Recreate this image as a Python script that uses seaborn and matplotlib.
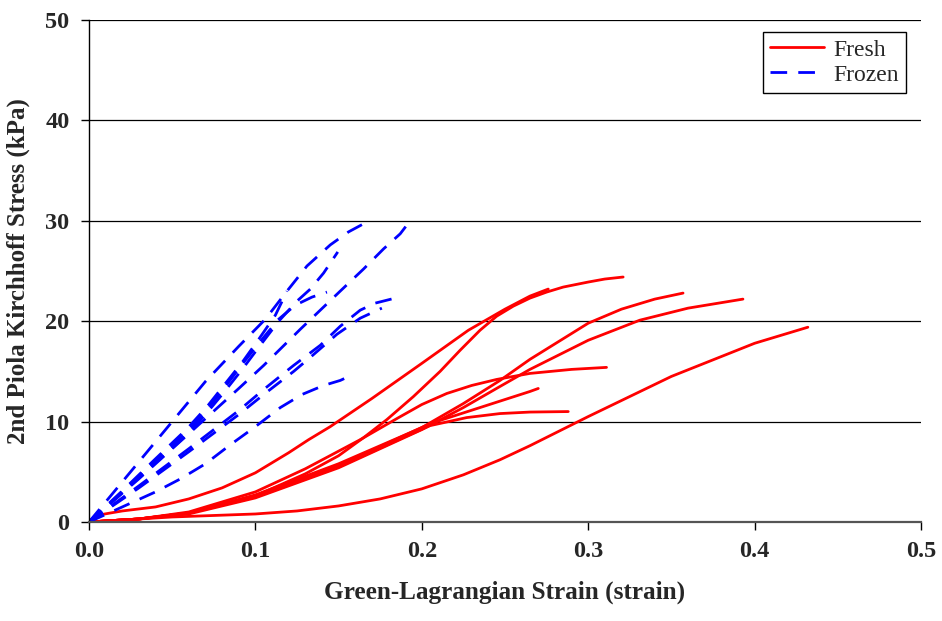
import matplotlib
matplotlib.use("Agg")
import matplotlib.pyplot as plt
import seaborn as sns
import pandas as pd
from matplotlib.lines import Line2D

# ---------------- data ----------------
# Fresh specimens (solid red)
fresh1_x = [0, 0.006, 0.02, 0.04, 0.06, 0.08, 0.1, 0.12, 0.132, 0.145, 0.17, 0.2, 0.228, 0.25, 0.265, 0.276]
fresh1_y = [0, 0.7, 1.1, 1.5, 2.3, 3.4, 4.9, 6.9, 8.2, 9.5, 12.3, 15.8, 19.1, 21.2, 22.5, 23.2]
fresh2_x = [0, 0.03, 0.06, 0.1, 0.13, 0.15, 0.165, 0.179, 0.195, 0.211, 0.223, 0.235, 0.245, 0.255, 0.265, 0.275, 0.285, 0.3, 0.31, 0.321]
fresh2_y = [0, 0.3, 0.9, 2.6, 4.8, 6.6, 8.4, 10.2, 12.5, 15.0, 17.1, 19.1, 20.5, 21.5, 22.3, 22.9, 23.4, 23.9, 24.2, 24.4]
fresh3_x = [0, 0.03, 0.06, 0.1, 0.15, 0.2, 0.225, 0.247, 0.265, 0.3, 0.32, 0.34, 0.357]
fresh3_y = [0, 0.3, 0.9, 2.7, 5.8, 9.4, 11.8, 14.1, 16.2, 19.8, 21.2, 22.2, 22.8]
fresh4_x = [0, 0.03, 0.06, 0.1, 0.15, 0.2, 0.225, 0.247, 0.265, 0.3, 0.331, 0.36, 0.393]
fresh4_y = [0, 0.3, 0.8, 2.4, 5.4, 9.2, 11.4, 13.5, 15.2, 18.1, 20.1, 21.3, 22.2]
fresh5_x = [0, 0.03, 0.06, 0.1, 0.13, 0.163, 0.185, 0.2, 0.215, 0.23, 0.245, 0.265, 0.29, 0.311]
fresh5_y = [0, 0.3, 1.0, 3.0, 5.3, 8.2, 10.3, 11.7, 12.8, 13.6, 14.2, 14.8, 15.2, 15.4]
fresh6_x = [0, 0.03, 0.06, 0.1, 0.15, 0.205, 0.235, 0.265, 0.27]
fresh6_y = [0, 0.3, 0.9, 2.6, 5.6, 9.8, 11.4, 13.0, 13.3]
fresh7_x = [0, 0.03, 0.06, 0.1, 0.15, 0.19, 0.205, 0.227, 0.247, 0.265, 0.288]
fresh7_y = [0, 0.3, 0.9, 2.5, 5.5, 8.5, 9.6, 10.4, 10.8, 10.95, 11.0]
fresh8_x = [0, 0.05, 0.1, 0.125, 0.15, 0.175, 0.2, 0.225, 0.247, 0.265, 0.3, 0.35, 0.4, 0.432]
fresh8_y = [0, 0.5, 0.8, 1.1, 1.6, 2.3, 3.3, 4.7, 6.2, 7.6, 10.5, 14.5, 17.8, 19.4]

# Frozen specimens (dashed blue)
frozen1_x = [0, 0.046, 0.07, 0.09, 0.106, 0.119, 0.131, 0.145, 0.156, 0.165]
frozen1_y = [0, 9.2, 14.0, 17.5, 20.2, 23.0, 25.5, 27.6, 28.9, 29.7]
frozen2_x = [0, 0.03, 0.06, 0.09, 0.105, 0.127, 0.151, 0.165, 0.177, 0.187, 0.193]
frozen2_y = [0, 4.3, 8.8, 13.3, 15.6, 19.2, 23.0, 25.2, 27.2, 28.7, 30.0]
frozen3_x = [0, 0.03, 0.06, 0.09, 0.105, 0.123, 0.139, 0.151, 0.163, 0.172, 0.184]
frozen3_y = [0, 3.6, 7.3, 11.1, 13.2, 15.6, 17.6, 19.5, 21.1, 21.8, 22.3]
frozen4_x = [0, 0.03, 0.06, 0.09, 0.105, 0.123, 0.133, 0.149, 0.163, 0.176]
frozen4_y = [0, 3.4, 7.0, 10.7, 12.7, 15.0, 16.4, 18.7, 20.3, 21.3]
frozen5_x = [0, 0.02, 0.04, 0.055, 0.07, 0.085, 0.1, 0.115, 0.128, 0.141, 0.151, 0.1575]
frozen5_y = [0, 1.5, 3.0, 4.3, 5.8, 7.7, 9.5, 11.4, 12.7, 13.6, 14.1, 14.6]
frozen6_x = [0, 0.02, 0.04, 0.059, 0.071, 0.0815, 0.0925, 0.102, 0.114, 0.125, 0.133, 0.141, 0.1495]
frozen6_y = [0, 2.9, 5.9, 8.7, 10.9, 13.0, 15.3, 17.4, 20.0, 22.0, 23.2, 24.8, 26.9]
frozen7_x = [0, 0.02, 0.04, 0.059, 0.071, 0.0815, 0.0925, 0.102, 0.114, 0.124, 0.134, 0.143]
frozen7_y = [0, 3.0, 6.1, 9.0, 11.2, 13.4, 15.8, 17.8, 20.2, 21.6, 22.4, 22.9]
frozen8_x = [0, 0.02, 0.04, 0.059, 0.071, 0.0815, 0.0925, 0.102, 0.112, 0.119]
frozen8_y = [0, 3.1, 6.3, 9.3, 11.5, 13.7, 16.0, 18.2, 20.6, 23.0]

y_ticks = [0, 10, 20, 30, 40, 50]
x_ticks = [0.0, 0.1, 0.2, 0.3, 0.4, 0.5]
x_tick_labels = ["0.0", "0.1", "0.2", "0.3", "0.4", "0.5"]
legend_labels = ["Fresh", "Frozen"]

fresh_curves = [(fresh1_x, fresh1_y), (fresh2_x, fresh2_y), (fresh3_x, fresh3_y),
                (fresh4_x, fresh4_y), (fresh5_x, fresh5_y), (fresh6_x, fresh6_y),
                (fresh7_x, fresh7_y), (fresh8_x, fresh8_y)]
frozen_curves = [(frozen1_x, frozen1_y), (frozen2_x, frozen2_y), (frozen3_x, frozen3_y),
                 (frozen4_x, frozen4_y), (frozen5_x, frozen5_y), (frozen6_x, frozen6_y),
                 (frozen7_x, frozen7_y), (frozen8_x, frozen8_y)]

rows = []
for i, (xs, ys) in enumerate(fresh_curves):
    for order, (x, y) in enumerate(zip(xs, ys)):
        rows.append({"group": "Fresh", "curve": f"fresh{i}", "order": order, "strain": x, "stress": y})
for i, (xs, ys) in enumerate(frozen_curves):
    for order, (x, y) in enumerate(zip(xs, ys)):
        rows.append({"group": "Frozen", "curve": f"frozen{i}", "order": order, "strain": x, "stress": y})
df = pd.DataFrame(rows)

# ---------------- figure ----------------
sns.set_style("white")
plt.rcParams["font.family"] = ["Liberation Serif", "DejaVu Serif"]

fig = plt.figure(figsize=(9.42, 6.21), dpi=100)
ax = fig.add_axes([89 / 942, 1 - 522 / 621, (921 - 89) / 942, (522 - 20) / 621])

for y in y_ticks[1:]:
    ax.axhline(y, color="black", lw=0.9, zorder=0)

palette = {"Fresh": "#FF0000", "Frozen": "#0000FF"}
dashes = {"Fresh": "", "Frozen": (6, 4)}
sns.lineplot(data=df, x="strain", y="stress", hue="group", style="group",
             units="curve", estimator=None, sort=False, palette=palette,
             dashes=dashes, linewidth=2.0, legend=False, ax=ax)
for ln in ax.get_lines():
    ln.set_solid_joinstyle("round")

ax.set_xlim(0, 0.5)
ax.set_ylim(0, 50)
ax.set_xticks(x_ticks)
ax.set_xticklabels(x_tick_labels)
ax.set_yticks(y_ticks)

for s in ["top", "right"]:
    ax.spines[s].set_visible(False)
ax.spines["left"].set_color("black")
ax.spines["left"].set_linewidth(1.0)
ax.spines["bottom"].set_color("#555555")
ax.spines["bottom"].set_linewidth(1.6)

ax.tick_params(axis="both", which="major", direction="out", length=6, width=1.0,
               color="black", labelsize=17.5, pad=8, bottom=True, left=True)
for lab in ax.get_xticklabels() + ax.get_yticklabels():
    lab.set_fontweight("bold")

ax.set_xlabel("Green-Lagrangian Strain (strain)", fontsize=18.2, fontweight="bold", labelpad=13)
ax.set_ylabel("2nd Piola Kirchhoff Stress (kPa)", fontsize=18, fontweight="bold", labelpad=11)

handles = [Line2D([], [], color=palette["Fresh"], lw=2.0),
           Line2D([], [], color=palette["Frozen"], lw=2.0, dashes=(6, 4))]
leg = ax.legend(handles, legend_labels, loc="upper right", bbox_to_anchor=(0.982, 0.976),
                frameon=True, fancybox=False, framealpha=1, edgecolor="black",
                prop={"family": "Liberation Serif", "size": 17},
                handlelength=2.3, handletextpad=0.4, labelspacing=0.15,
                borderpad=0.3, borderaxespad=0)
leg.get_frame().set_linewidth(1.0)

fig.savefig("out.png", dpi=100)
